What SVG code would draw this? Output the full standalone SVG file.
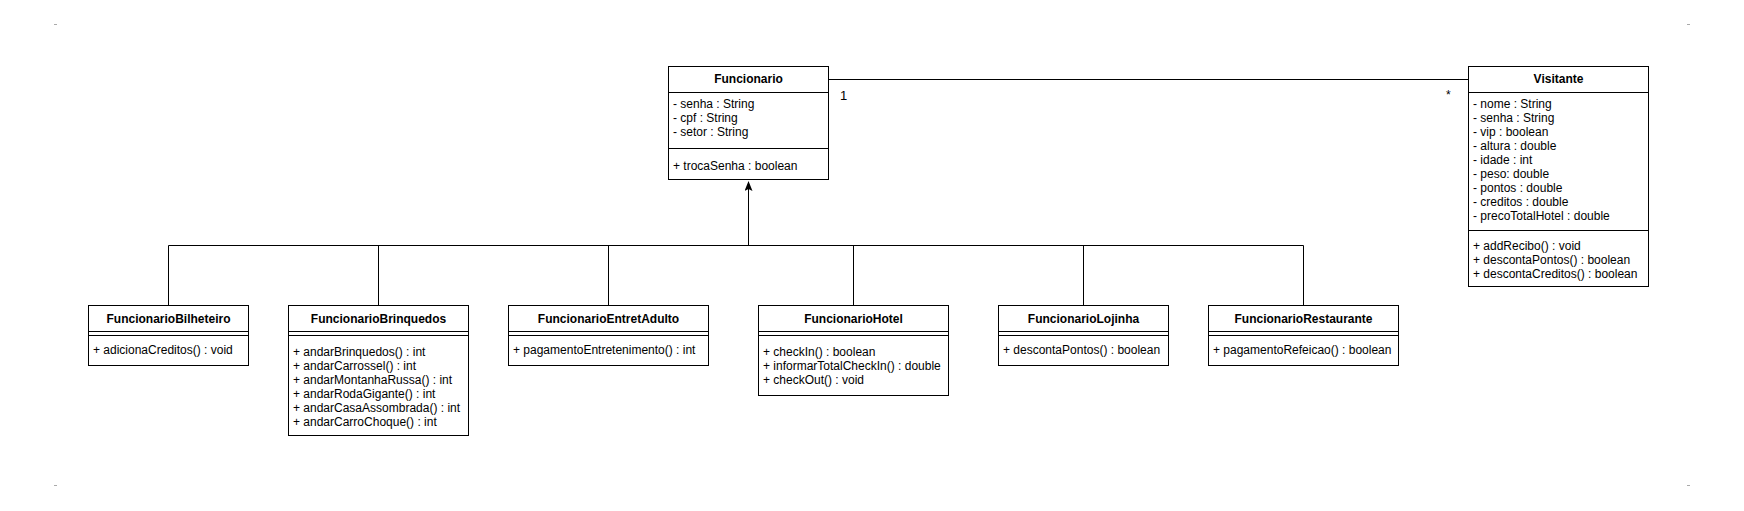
<svg xmlns="http://www.w3.org/2000/svg" width="1744" height="511" viewBox="0 0 1744 511">
<style>
.box{fill:#fff;stroke:#000;stroke-width:1}
.sep{stroke:#000;stroke-width:1}
.t{font-family:"Liberation Sans",Arial,sans-serif;font-size:12px;fill:#000}
.h{font-family:"Liberation Sans",Arial,sans-serif;font-size:12px;font-weight:bold;fill:#000;text-anchor:middle}
.con{fill:none;stroke:#000;stroke-width:1}
.dot{fill:#aaa}
</style>
<defs>
<marker id="arr" viewBox="0 0 10 8" refX="9" refY="4" markerWidth="10" markerHeight="8" markerUnits="userSpaceOnUse" orient="auto">
<path d="M0,0 L10,4 L0,8 L2,4 Z" fill="#000"/>
</marker>
</defs>
<rect width="1744" height="511" fill="#fff"/>
<g id="marks">
<rect class="dot" x="54" y="24" width="3" height="1"/>
<rect class="dot" x="1687" y="24" width="3" height="1"/>
<rect class="dot" x="54" y="485" width="3" height="1"/>
<rect class="dot" x="1687" y="485" width="3" height="1"/>
</g>
<g id="connectors">
<path class="con" d="M828.5,79.5 H1468.5"/>
<text class="t" x="840" y="100" style="font-size:13px">1</text>
<text class="t" x="1446" y="99">*</text>
<path class="con" d="M748.5,245.5 V182" marker-end="url(#arr)"/>
<path class="con" d="M168.5,305.5 V245.5 H1303.5 V305.5"/>
<path class="con" d="M378.5,245.5 V305.5"/>
<path class="con" d="M608.5,245.5 V305.5"/>
<path class="con" d="M853.5,245.5 V305.5"/>
<path class="con" d="M1083.5,245.5 V305.5"/>
</g>
<g id="Funcionario">
<rect class="box" x="668.5" y="66.5" width="160" height="113"/>
<line class="sep" x1="668.5" y1="92.5" x2="828.5" y2="92.5"/>
<line class="sep" x1="668.5" y1="148.5" x2="828.5" y2="148.5"/>
<text class="h" x="748.5" y="83">Funcionario</text>
<text class="t" x="673" y="108">- senha : String</text>
<text class="t" x="673" y="122">- cpf : String</text>
<text class="t" x="673" y="136">- setor : String</text>
<text class="t" x="673" y="170">+ trocaSenha : boolean</text>
</g>
<g id="Visitante">
<rect class="box" x="1468.5" y="66.5" width="180" height="220"/>
<line class="sep" x1="1468.5" y1="92.5" x2="1648.5" y2="92.5"/>
<line class="sep" x1="1468.5" y1="230.5" x2="1648.5" y2="230.5"/>
<text class="h" x="1558.5" y="83">Visitante</text>
<text class="t" x="1473" y="108">- nome : String</text>
<text class="t" x="1473" y="122">- senha : String</text>
<text class="t" x="1473" y="136">- vip : boolean</text>
<text class="t" x="1473" y="150">- altura : double</text>
<text class="t" x="1473" y="164">- idade : int</text>
<text class="t" x="1473" y="178">- peso: double</text>
<text class="t" x="1473" y="192">- pontos : double</text>
<text class="t" x="1473" y="206">- creditos : double</text>
<text class="t" x="1473" y="220">- precoTotalHotel : double</text>
<text class="t" x="1473" y="250">+ addRecibo() : void</text>
<text class="t" x="1473" y="264">+ descontaPontos() : boolean</text>
<text class="t" x="1473" y="278">+ descontaCreditos() : boolean</text>
</g>
<g id="FuncionarioBilheteiro">
<rect class="box" x="88.5" y="305.5" width="160" height="60"/>
<line class="sep" x1="88.5" y1="331.5" x2="248.5" y2="331.5"/>
<line class="sep" x1="88.5" y1="335.5" x2="248.5" y2="335.5"/>
<text class="h" x="168.5" y="323">FuncionarioBilheteiro</text>
<text class="t" x="93" y="354">+ adicionaCreditos() : void</text>
</g>
<g id="FuncionarioBrinquedos">
<rect class="box" x="288.5" y="305.5" width="180" height="130"/>
<line class="sep" x1="288.5" y1="331.5" x2="468.5" y2="331.5"/>
<line class="sep" x1="288.5" y1="335.5" x2="468.5" y2="335.5"/>
<text class="h" x="378.5" y="323">FuncionarioBrinquedos</text>
<text class="t" x="293" y="356">+ andarBrinquedos() : int</text>
<text class="t" x="293" y="370">+ andarCarrossel() : int</text>
<text class="t" x="293" y="384">+ andarMontanhaRussa() : int</text>
<text class="t" x="293" y="398">+ andarRodaGigante() : int</text>
<text class="t" x="293" y="412">+ andarCasaAssombrada() : int</text>
<text class="t" x="293" y="426">+ andarCarroChoque() : int</text>
</g>
<g id="FuncionarioEntretAdulto">
<rect class="box" x="508.5" y="305.5" width="200" height="60"/>
<line class="sep" x1="508.5" y1="331.5" x2="708.5" y2="331.5"/>
<line class="sep" x1="508.5" y1="335.5" x2="708.5" y2="335.5"/>
<text class="h" x="608.5" y="323">FuncionarioEntretAdulto</text>
<text class="t" x="513" y="354">+ pagamentoEntretenimento() : int</text>
</g>
<g id="FuncionarioHotel">
<rect class="box" x="758.5" y="305.5" width="190" height="90"/>
<line class="sep" x1="758.5" y1="331.5" x2="948.5" y2="331.5"/>
<line class="sep" x1="758.5" y1="335.5" x2="948.5" y2="335.5"/>
<text class="h" x="853.5" y="323">FuncionarioHotel</text>
<text class="t" x="763" y="356">+ checkIn() : boolean</text>
<text class="t" x="763" y="370">+ informarTotalCheckIn() : double</text>
<text class="t" x="763" y="384">+ checkOut() : void</text>
</g>
<g id="FuncionarioLojinha">
<rect class="box" x="998.5" y="305.5" width="170" height="60"/>
<line class="sep" x1="998.5" y1="331.5" x2="1168.5" y2="331.5"/>
<line class="sep" x1="998.5" y1="335.5" x2="1168.5" y2="335.5"/>
<text class="h" x="1083.5" y="323">FuncionarioLojinha</text>
<text class="t" x="1003" y="354">+ descontaPontos() : boolean</text>
</g>
<g id="FuncionarioRestaurante">
<rect class="box" x="1208.5" y="305.5" width="190" height="60"/>
<line class="sep" x1="1208.5" y1="331.5" x2="1398.5" y2="331.5"/>
<line class="sep" x1="1208.5" y1="335.5" x2="1398.5" y2="335.5"/>
<text class="h" x="1303.5" y="323">FuncionarioRestaurante</text>
<text class="t" x="1213" y="354">+ pagamentoRefeicao() : boolean</text>
</g>
</svg>
